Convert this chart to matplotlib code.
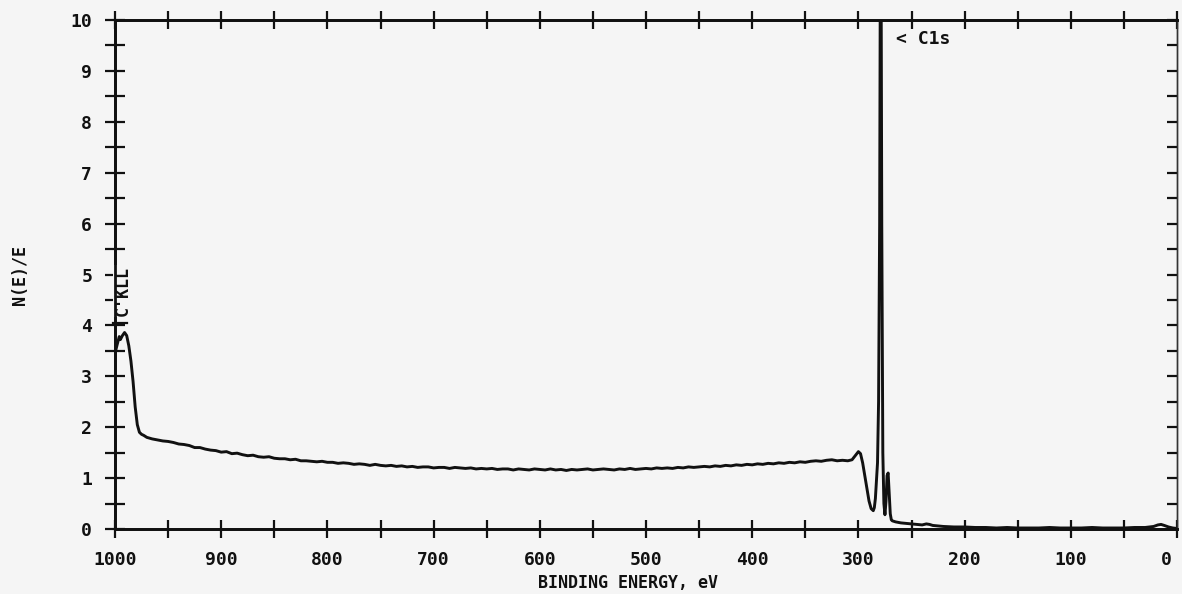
import matplotlib
matplotlib.use("Agg")
import matplotlib.pyplot as plt
import matplotlib.transforms as mtransforms
from matplotlib.ticker import MultipleLocator

# ---------------- data ----------------
energy = [1000, 998, 996, 995, 993, 991, 989, 987, 985, 983, 981, 979, 977, 975, 973, 970,
          965, 960, 955, 950, 945, 940, 935, 930, 925, 920, 915, 910, 905, 900,
          895, 890, 885, 880, 875, 870, 865, 860, 855, 850, 845, 840, 835, 830,
          825, 820, 815, 810, 805, 800, 795, 790, 785, 780, 775, 770, 765, 760,
          755, 750, 745, 740, 735, 730, 725, 720, 715, 710, 705, 700, 695, 690,
          685, 680, 675, 670, 665, 660, 655, 650, 645, 640, 635, 630, 625, 620,
          615, 610, 605, 600, 595, 590, 585, 580, 575, 570, 565, 560, 555, 550,
          545, 540, 535, 530, 525, 520, 515, 510, 505, 500, 495, 490, 485, 480,
          475, 470, 465, 460, 455, 450, 445, 440, 435, 430, 425, 420, 415, 410,
          405, 400, 395, 390, 385, 380, 375, 370, 365, 360, 355, 350, 345, 340,
          335, 330, 325, 320, 315, 310, 306, 303, 300, 298, 296, 294, 292, 290,
          288, 286, 285, 284, 283, 282, 281, 280, 279, 278, 277, 276, 275, 274,
          273, 272, 271, 270, 269, 268, 265, 260, 255, 250, 245, 240, 236, 233,
          230, 225, 220, 210, 200, 190, 180, 170, 160, 150, 140, 130, 120, 110,
          100, 90, 80, 70, 60, 50, 40, 30, 22, 18, 15, 12, 8, 4, 0]
intensity = [3.45, 3.62, 3.78, 3.72, 3.80, 3.86, 3.80, 3.60, 3.30, 2.90, 2.40, 2.05, 1.90, 1.86, 1.84, 1.80,
             1.77, 1.75, 1.73, 1.72, 1.70, 1.67, 1.66, 1.64, 1.60, 1.60, 1.57, 1.55, 1.54, 1.51,
             1.52, 1.48, 1.49, 1.46, 1.44, 1.45, 1.42, 1.41, 1.42, 1.39, 1.38, 1.38, 1.36, 1.37,
             1.34, 1.34, 1.33, 1.32, 1.33, 1.31, 1.31, 1.29, 1.30, 1.29, 1.27, 1.28, 1.27, 1.25,
             1.27, 1.25, 1.24, 1.25, 1.23, 1.24, 1.22, 1.23, 1.21, 1.22, 1.22, 1.20, 1.21, 1.21,
             1.19, 1.21, 1.20, 1.19, 1.20, 1.18, 1.19, 1.18, 1.19, 1.17, 1.18, 1.18, 1.16, 1.18,
             1.17, 1.16, 1.18, 1.17, 1.16, 1.18, 1.16, 1.17, 1.15, 1.17, 1.16, 1.17, 1.18, 1.16,
             1.17, 1.18, 1.17, 1.16, 1.18, 1.17, 1.19, 1.17, 1.18, 1.19, 1.18, 1.20, 1.19, 1.20,
             1.19, 1.21, 1.20, 1.22, 1.21, 1.22, 1.23, 1.22, 1.24, 1.23, 1.25, 1.24, 1.26, 1.25,
             1.27, 1.26, 1.28, 1.27, 1.29, 1.28, 1.30, 1.29, 1.31, 1.30, 1.32, 1.31, 1.33, 1.34,
             1.33, 1.35, 1.36, 1.34, 1.35, 1.34, 1.36, 1.44, 1.52, 1.48, 1.30, 1.05, 0.80, 0.55,
             0.40, 0.36, 0.42, 0.60, 0.95, 1.30, 2.5, 6.0, 14.0, 6.0, 1.5, 0.50, 0.28, 0.55,
             1.05, 1.10, 0.70, 0.30, 0.18, 0.16, 0.14, 0.12, 0.11, 0.10, 0.09, 0.08, 0.10, 0.09,
             0.07, 0.06, 0.05, 0.04, 0.04, 0.03, 0.03, 0.02, 0.03, 0.02, 0.02, 0.02, 0.03, 0.02,
             0.02, 0.02, 0.03, 0.02, 0.02, 0.02, 0.03, 0.03, 0.05, 0.08, 0.09, 0.07, 0.04, 0.02, 0.01]

x_ticks = [1000, 900, 800, 700, 600, 500, 400, 300, 200, 100, 0]
y_ticks = [0, 1, 2, 3, 4, 5, 6, 7, 8, 9, 10]
x_label = "BINDING ENERGY, eV"
y_label = "N(E)/E"
peak_labels = ["< C1s", "C'KLL"]

# ---------------- figure ----------------
bg = "#f5f5f5"
ink = "#111111"
font = "DejaVu Sans Mono"

fig = plt.figure(figsize=(11.82, 5.94), dpi=100, facecolor=bg)
ax = fig.add_axes([115 / 1182, 1 - 529 / 594, 1062 / 1182, 509 / 594])
ax.set_facecolor(bg)

ax.plot(energy, intensity, color=ink, lw=2.1, solid_joinstyle="round")

ax.set_xlim(1000, 0)
ax.set_ylim(0, 10)

ax.xaxis.set_minor_locator(MultipleLocator(50))
ax.yaxis.set_minor_locator(MultipleLocator(0.5))
ax.set_xticks(x_ticks)
ax.set_xticklabels([str(v) for v in x_ticks])
ax.set_yticks(y_ticks)
ax.set_yticklabels([str(v) for v in y_ticks])

ax.tick_params(axis="x", which="both", direction="inout", length=13, width=1.6,
               top=True, bottom=True, color=ink, pad=9)
ax.tick_params(axis="y", which="both", direction="inout", length=15, width=1.6,
               left=True, right=False, color=ink, pad=9)
for lab in ax.get_xticklabels() + ax.get_yticklabels():
    lab.set_fontfamily(font)
    lab.set_fontweight("bold")
    lab.set_fontsize(13)
    lab.set_color(ink)

# the last x label ("0") sits a little left of its tick, as in the scan
last = ax.get_xticklabels()[-1]
last.set_transform(last.get_transform() +
                   mtransforms.ScaledTranslation(-11 / 100, 0, fig.dpi_scale_trans))

# right-side inward ticks
axr = ax.twinx()
axr.set_ylim(0, 10)
axr.yaxis.set_major_locator(MultipleLocator(0.5))
axr.tick_params(axis="y", direction="in", length=7, width=1.6, color=ink, labelright=False)

for a in (ax, axr):
    for side in ("left", "bottom", "top"):
        a.spines[side].set_linewidth(2.0)
        a.spines[side].set_color(ink)
    a.spines["right"].set_linewidth(1.0)
    a.spines["right"].set_color("#333333")

# peak labels
ax.text(265, 9.63, peak_labels[0], fontsize=13, fontfamily=font, fontweight="bold",
        color=ink, ha="left", va="center")
ax.text(993, 4.68, peak_labels[1], rotation=90, fontsize=12, fontfamily=font,
        fontweight="bold", color=ink, ha="center", va="center",
        bbox=dict(boxstyle="square,pad=0.05", fc=bg, ec="none"), zorder=5)
ax.plot([1002, 989], [4.05, 4.05], color=ink, lw=1.6, clip_on=False, zorder=6)

fig.text(628 / 1182, 1 - 583 / 594, x_label, fontsize=12, fontfamily=font,
         fontweight="bold", color=ink, ha="center", va="center")
fig.text(20 / 1182, 1 - 275 / 594, y_label, rotation=90, fontsize=12, fontfamily=font,
         fontweight="bold", color=ink, ha="center", va="center")

fig.savefig("out.png", dpi=100, facecolor=bg)
